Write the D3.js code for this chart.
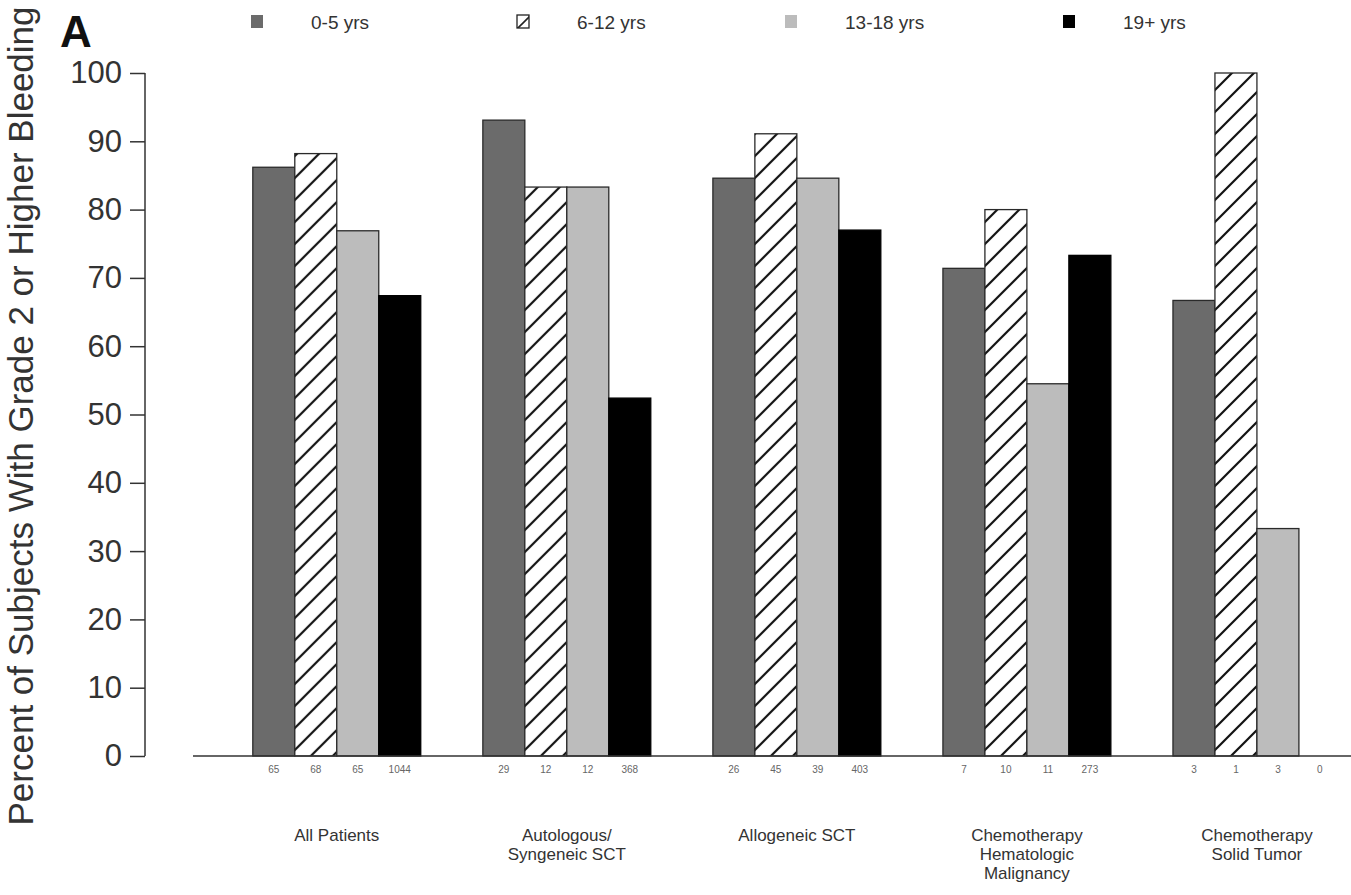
<!DOCTYPE html>
<html>
<head>
<meta charset="utf-8">
<script src="https://cdn.jsdelivr.net/npm/d3@7"></script>
<style>
  html, body { margin: 0; padding: 0; background: #fff; }
  svg { display: block; font-family: "Liberation Sans", Arial, sans-serif; }
</style>
</head>
<body>
<svg id="chart" width="1351" height="895"></svg>
<script>
// Patient groups (x-axis categories), one line per array entry
const categories = [
  ["All Patients"],
  ["Autologous/", "Syngeneic SCT"],
  ["Allogeneic SCT"],
  ["Chemotherapy", "Hematologic", "Malignancy"],
  ["Chemotherapy", "Solid Tumor"]
];

// Age bands (series)
const ageGroups = ["0-5 yrs", "6-12 yrs", "13-18 yrs", "19+ yrs"];

// Percent of subjects with grade 2 or higher bleeding, per age band
const pctAge0to5   = [86.2, 93.1, 84.6, 71.4, 66.7];
const pctAge6to12  = [88.2, 83.3, 91.1, 80.0, 100.0];
const pctAge13to18 = [76.9, 83.3, 84.6, 54.5, 33.3];
const pctAge19plus = [67.4, 52.4, 77.0, 73.3, 0.0];

// Number of subjects per bar
const nAge0to5   = [65, 29, 26, 7, 3];
const nAge6to12  = [68, 12, 45, 10, 1];
const nAge13to18 = [65, 12, 39, 11, 3];
const nAge19plus = [1044, 368, 403, 273, 0];

const yTicks = [0, 10, 20, 30, 40, 50, 60, 70, 80, 90, 100];

const seriesValues = [pctAge0to5, pctAge6to12, pctAge13to18, pctAge19plus];
const seriesN = [nAge0to5, nAge6to12, nAge13to18, nAge19plus];

const svg = d3.select("#chart");

// Hatch pattern for the 6-12 yrs band
const defs = svg.append("defs");
const hatch = defs.append("pattern")
  .attr("id", "hatch")
  .attr("patternUnits", "userSpaceOnUse")
  .attr("width", 22).attr("height", 22);
hatch.append("rect").attr("width", 22).attr("height", 22).attr("fill", "#fff");
hatch.append("path")
  .attr("d", "M0,22 L22,0 M-11,11 L11,-11 M11,33 L33,11")
  .attr("stroke", "#111").attr("stroke-width", 2.2);

const legendHatch = defs.append("pattern")
  .attr("id", "hatchSmall")
  .attr("patternUnits", "userSpaceOnUse")
  .attr("width", 14).attr("height", 14);
legendHatch.append("rect").attr("width", 14).attr("height", 14).attr("fill", "#fff");
legendHatch.append("path")
  .attr("d", "M0,14 L14,0")
  .attr("stroke", "#222").attr("stroke-width", 1.6);

const fills = ["#6b6b6b", "url(#hatch)", "#bcbcbc", "#000"];
const legendFills = ["#6b6b6b", "url(#hatchSmall)", "#bcbcbc", "#000"];

// Scales
const y = d3.scaleLinear().domain([0, 100]).range([756, 73]);

const x0 = d3.scaleBand()
  .domain(d3.range(categories.length))
  .range([193, 1400.7])
  .paddingInner(0.27)
  .paddingOuter(0.26);

const x1 = d3.scaleBand()
  .domain(d3.range(ageGroups.length))
  .range([0, x0.bandwidth()])
  .padding(0);

// Bars
const groups = svg.append("g").selectAll("g")
  .data(categories)
  .join("g")
  .attr("transform", (d, i) => `translate(${x0(i)},0)`);

groups.selectAll("rect")
  .data((d, i) => seriesValues.map((s, k) => ({ k, v: s[i] })))
  .join("rect")
  .attr("x", d => x1(d.k))
  .attr("width", x1.bandwidth())
  .attr("y", d => y(d.v))
  .attr("height", d => y(0) - y(d.v))
  .attr("fill", d => fills[d.k])
  .attr("stroke", d => d.v > 0 ? (d.k === 3 ? "#000" : "#2a2a2a") : "none")
  .attr("stroke-width", 1.3);

// Subject counts under each bar
groups.selectAll("text.n")
  .data((d, i) => seriesN.map((s, k) => ({ k, n: s[i] })))
  .join("text")
  .attr("class", "n")
  .attr("x", d => x1(d.k) + x1.bandwidth() / 2)
  .attr("y", 773)
  .attr("text-anchor", "middle")
  .attr("font-size", 10)
  .attr("fill", "#666")
  .text(d => d.n);

// Category labels
groups.append("text")
  .attr("text-anchor", "middle")
  .attr("font-size", 17)
  .attr("fill", "#333")
  .selectAll("tspan")
  .data(d => d)
  .join("tspan")
  .attr("x", x0.bandwidth() / 2)
  .attr("y", (d, j) => 841 + j * 19)
  .text(d => d);

// X baseline
svg.append("line")
  .attr("x1", 193).attr("x2", 1351)
  .attr("y1", y(0)).attr("y2", y(0))
  .attr("stroke", "#333").attr("stroke-width", 1.5);

// Y axis
const yAxis = d3.axisLeft(y).tickValues(yTicks).tickSize(15).tickPadding(8);
const yg = svg.append("g")
  .attr("transform", "translate(145,0)")
  .call(yAxis);
yg.select(".domain").attr("stroke", "#333").attr("stroke-width", 1.5)
  .attr("d", `M-0,${y(100)}V${y(0)}`);
yg.selectAll(".tick line").attr("stroke", "#333").attr("stroke-width", 1.5);
yg.selectAll(".tick text")
  .attr("font-size", 31)
  .attr("font-family", "Liberation Sans, Arial, sans-serif")
  .attr("fill", "#333");

// Y axis title
svg.append("text")
  .attr("transform", "translate(33,416) rotate(-90)")
  .attr("text-anchor", "middle")
  .attr("font-size", 35)
  .attr("fill", "#333")
  .text("Percent of Subjects With Grade 2 or Higher Bleeding");

// Panel letter
svg.append("text")
  .attr("x", 60).attr("y", 47)
  .attr("font-size", 44)
  .attr("font-weight", "bold")
  .attr("fill", "#111")
  .text("A");

// Legend
const legendX = [251, 517, 785, 1063];
const legend = svg.append("g").selectAll("g")
  .data(ageGroups)
  .join("g")
  .attr("transform", (d, i) => `translate(${legendX[i]},15)`);
legend.append("rect")
  .attr("width", 12).attr("height", 13)
  .attr("fill", (d, i) => legendFills[i])
  .attr("stroke", (d, i) => i === 1 ? "#222" : "none")
  .attr("stroke-width", 1.3);
legend.append("text")
  .attr("x", 60).attr("y", 14)
  .attr("font-size", 19)
  .attr("fill", "#333")
  .text(d => d);
</script>
</body>
</html>
